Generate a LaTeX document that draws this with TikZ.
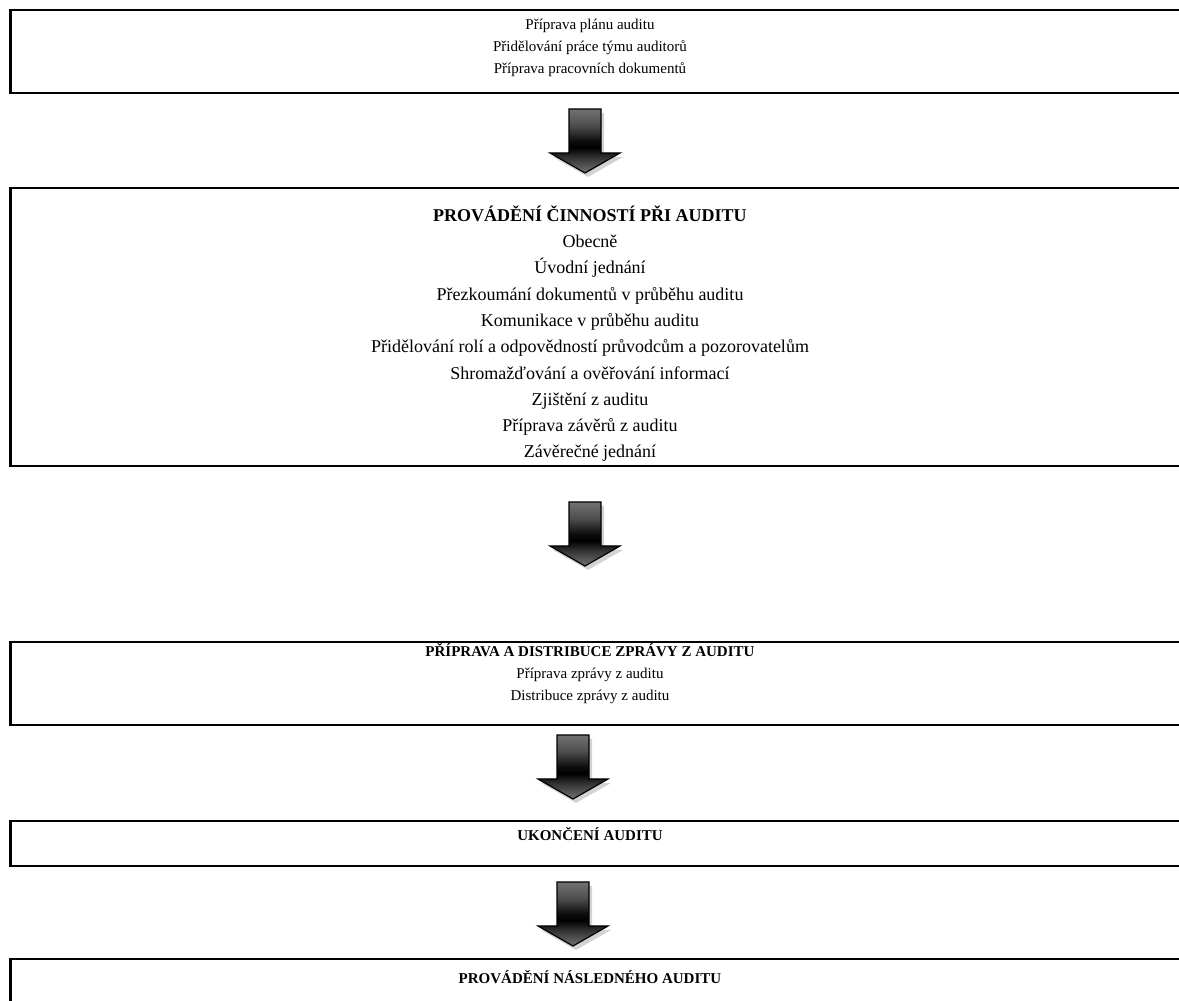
\documentclass[tikz,border=0pt]{standalone}
\usepackage{fontspec}
\setmainfont{Liberation Serif}
\usetikzlibrary{calc,shadows}

\pgfdeclareverticalshading{sipkashade}{100bp}{color(0bp)=(black!55);
  color(25bp)=(black!55); color(37bp)=(black!80); color(45bp)=(black);
  color(50bp)=(black!95); color(62bp)=(black!70); color(75bp)=(black!55);
  color(100bp)=(black!55)}

% block arrow pointing down, #1 = top middle of the shaft
\newcommand{\sipka}[1]{%
  \path[blockarrow] (#1) ++(-16,0) -- ++(32,0) -- ++(0,-44) -- ++(19,0)
    -- ++(-35,-20) -- ++(-35,20) -- ++(19,0) -- cycle;}

\begin{document}
\begin{tikzpicture}[x=1pt, y=1pt,
  box/.style={draw, line width=2.5pt, rectangle, anchor=north west,
    minimum width=1200pt, inner sep=0pt},
  txt/.style={align=center, anchor=base, inner sep=0pt,
    font=\fontsize{15}{22}\selectfont},
  blockarrow/.style={draw=black, line width=1.2pt, shade, shading=sipkashade,
    drop shadow={shadow xshift=3pt, shadow yshift=-4pt, opacity=0.35}}]
  \useasboundingbox (0,0) rectangle (1179,1001);
  \clip (0,0) rectangle (1179,1001);

  % Plan
  \node[box, minimum height=83pt] (plan) at (9,992) {};
  \node[txt] (plan-txt) at (590,927) {Příprava plánu auditu\\
    Přidělování práce týmu auditorů\\Příprava pracovních dokumentů};

  % Cinnosti
  \node[box, minimum height=278pt] (cinnosti) at (9,814) {};
  \node[txt, font=\fontsize{18}{26.3}\selectfont] (cinnosti-txt) at (590,543)
    {\textbf{PROVÁDĚNÍ ČINNOSTÍ PŘI AUDITU}\\Obecně\\Úvodní jednání\\
    Přezkoumání dokumentů v průběhu auditu\\Komunikace v průběhu auditu\\
    Přidělování rolí a odpovědností průvodcům a pozorovatelům\\
    Shromažďování a ověřování informací\\Zjištění z auditu\\
    Příprava závěrů z auditu\\Závěrečné jednání};

  % Zprava
  \node[box, minimum height=83pt] (zprava) at (9,360) {};
  \node[txt] (zprava-txt) at (590,300) {\textbf{PŘÍPRAVA A DISTRIBUCE ZPRÁVY Z AUDITU}\\
    Příprava zprávy z auditu\\Distribuce zprávy z auditu};

  % Ukonceni
  \node[box, minimum height=45pt] (ukonceni) at (9,181) {};
  \node[txt] (ukonceni-txt) at (590,160) {\textbf{UKONČENÍ AUDITU}};

  % Nasledny audit
  \node[box, minimum height=70pt] (nasledny) at (9,43) {};
  \node[txt] (nasledny-txt) at (590,17) {\textbf{PROVÁDĚNÍ NÁSLEDNÉHO AUDITU}};

  % Arrows between the boxes
  \coordinate (a1) at (585,892);
  \coordinate (a2) at (585,499);
  \coordinate (a3) at (573,266);
  \coordinate (a4) at (573,119);
  \sipka{a1}
  \sipka{a2}
  \sipka{a3}
  \sipka{a4}
\end{tikzpicture}
\end{document}
